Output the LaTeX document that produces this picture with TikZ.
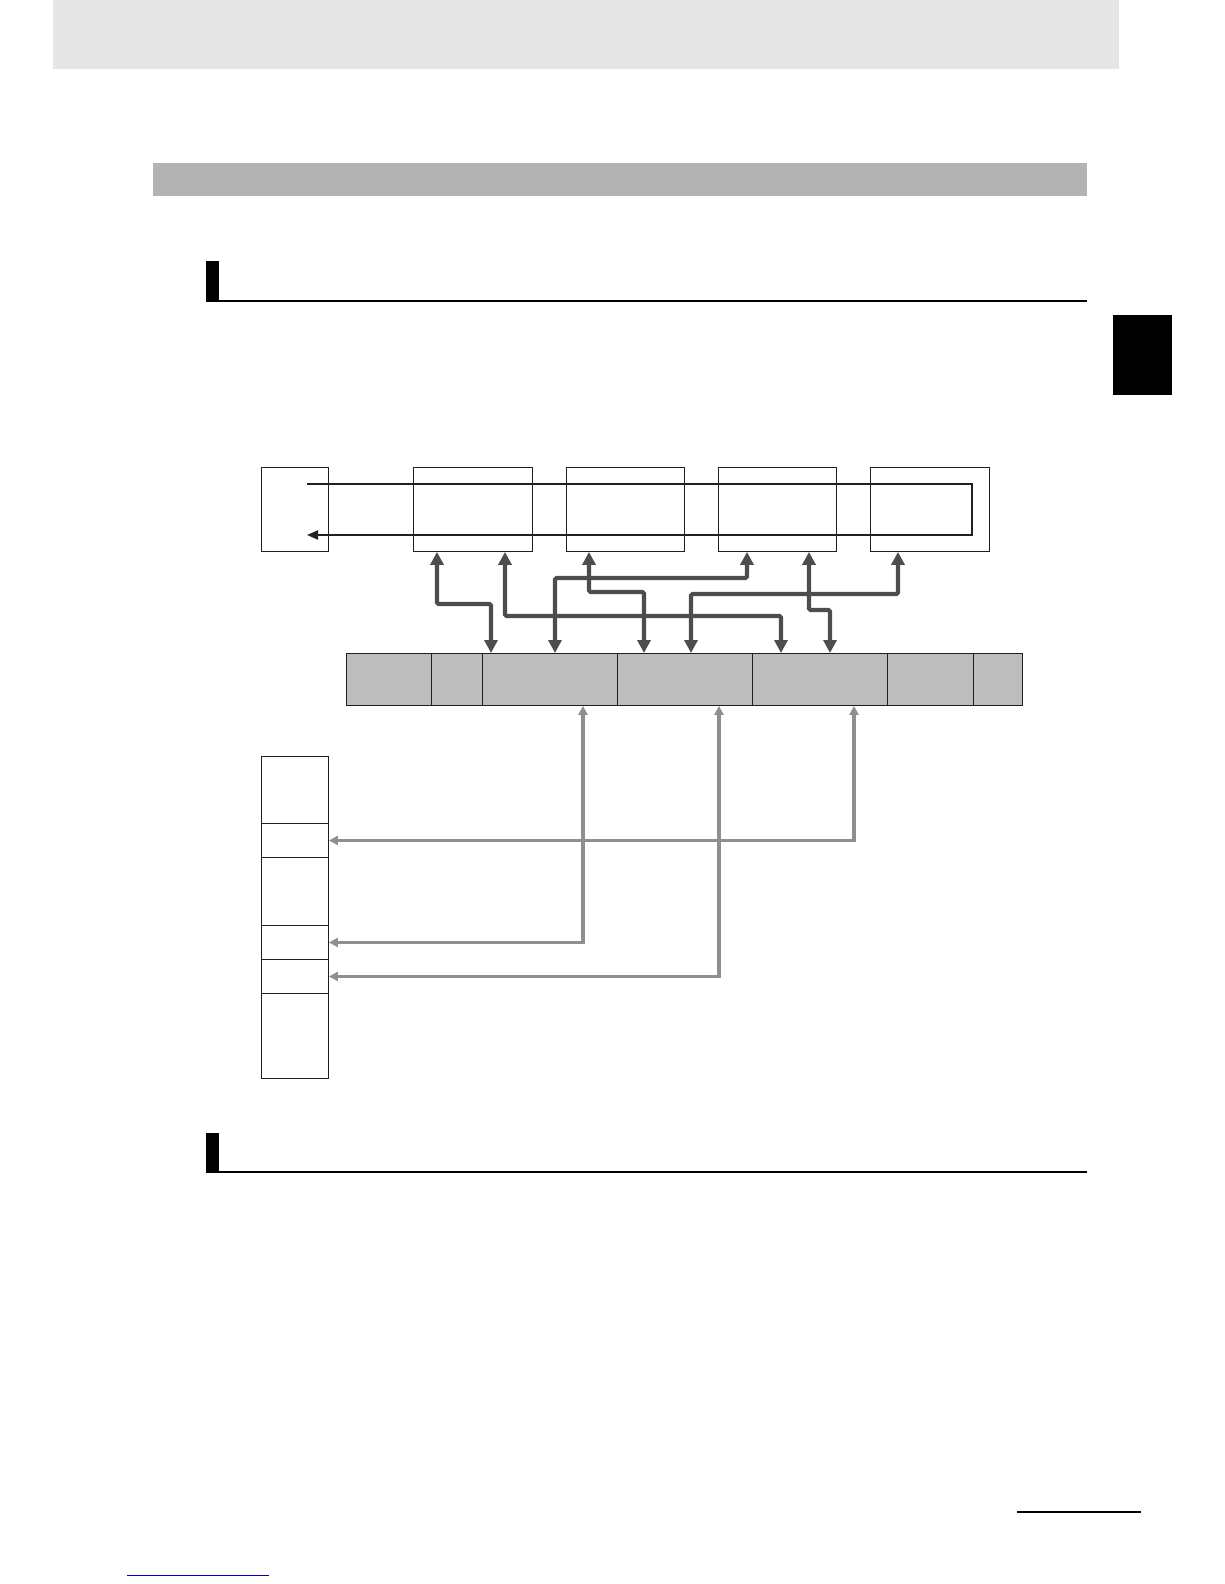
\documentclass[tikz,border=0pt]{standalone}
\usetikzlibrary{arrows.meta}
\definecolor{hdr}{HTML}{E6E6E6}
\definecolor{secbar}{HTML}{B3B3B3}
\definecolor{membar}{HTML}{BDBDBD}
\definecolor{darkarr}{HTML}{4D4D4D}
\definecolor{lightarr}{HTML}{8F8F8F}
\begin{document}
\begin{tikzpicture}[x=1pt,y=-1pt,
  wbox/.style={draw=black!88, line width=0.9pt, fill=white, inner sep=0pt, anchor=north west, minimum height=84pt},
  cell/.style={draw=black!88, line width=0.9pt, fill=membar, inner sep=0pt, anchor=north west, minimum height=52pt},
  mcell/.style={draw=black!88, line width=0.9pt, fill=white, inner sep=0pt, anchor=north west, minimum width=67pt},
  darr/.style={draw=darkarr, line width=4.2pt, rounded corners=1.5pt,
    {Triangle[length=13pt,width=13pt]}-{Triangle[length=13pt,width=13pt]}},
  larr/.style={draw=lightarr, line width=3.4pt,
    {Triangle[length=9pt,width=9pt]}-{Triangle[length=9pt,width=9pt]}},
  loopl/.style={draw=black!87, line width=1.9pt, -{Triangle[length=11pt,width=9pt]}}
]
\useasboundingbox (0,0) rectangle (1224,1584);
\fill[white] (0,0) rectangle (1224,1584);
% page decorations
\fill[hdr] (53,0) rectangle (1119,69);
\fill[secbar] (153,163) rectangle (1087,196);
\fill[black] (206,261) rectangle (219,302);
\fill[black] (206,299.5) rectangle (1087,302);
\fill[black] (206,1133) rectangle (219,1173);
\fill[black] (206,1170.5) rectangle (1087,1173);
\fill[black] (1113,315) rectangle (1172,395);
\fill[black] (1017,1511) rectangle (1141,1513);
\fill[blue!75!black] (127,1574.5) rectangle (269,1575.7);

% top boxes
\node[wbox, minimum width=67pt]  (b0) at (261,467) {};
\node[wbox, minimum width=119pt] (b1) at (413,467) {};
\node[wbox, minimum width=118pt] (b2) at (566,467) {};
\node[wbox, minimum width=118pt] (b3) at (718,467) {};
\node[wbox, minimum width=119pt] (b4) at (870,467) {};

% loop line
\coordinate (ls) at (307,484);
\coordinate (le) at (307,535);
\coordinate (lc) at (972,535);
\draw[loopl] (ls) -| (lc) -- (le);

% memory bar
\node[cell, minimum width=85pt]  (c1) at (346,653) {};
\node[cell, minimum width=51pt]  (c2) at (431,653) {};
\node[cell, minimum width=135pt] (c3) at (482,653) {};
\node[cell, minimum width=135pt] (c4) at (617,653) {};
\node[cell, minimum width=135pt] (c5) at (752,653) {};
\node[cell, minimum width=86pt]  (c6) at (887,653) {};
\node[cell, minimum width=49pt]  (c7) at (973,653) {};

% memory column
\node[mcell, minimum height=67pt] (m1) at (261,756) {};
\node[mcell, minimum height=34pt] (m2) at (261,823) {};
\node[mcell, minimum height=68pt] (m3) at (261,857) {};
\node[mcell, minimum height=34pt] (m4) at (261,925) {};
\node[mcell, minimum height=34pt] (m5) at (261,959) {};
\node[mcell, minimum height=85pt] (m6) at (261,993) {};

% dark double arrows
\draw[darr] (437,0 |- b1.south) |- (491,604) -- (491,0 |- c3.north);
\draw[darr] (505,0 |- b1.south) |- (781,616) -- (781,0 |- c5.north);
\draw[darr] (747,0 |- b3.south) |- (555,578) -- (555,0 |- c3.north);
\draw[darr] (589,0 |- b2.south) |- (644,592) -- (644,0 |- c4.north);
\draw[darr] (898,0 |- b4.south) |- (691,594) -- (691,0 |- c4.north);
\draw[darr] (809,0 |- b3.south) |- (830,610) -- (830,0 |- c5.north);

% light double arrows
\draw[larr] (854,0 |- c5.south) |- (m2.east);
\draw[larr] (583,0 |- c3.south) |- (m4.east);
\draw[larr] (719,0 |- c4.south) |- (m5.east);
\end{tikzpicture}
\end{document}
